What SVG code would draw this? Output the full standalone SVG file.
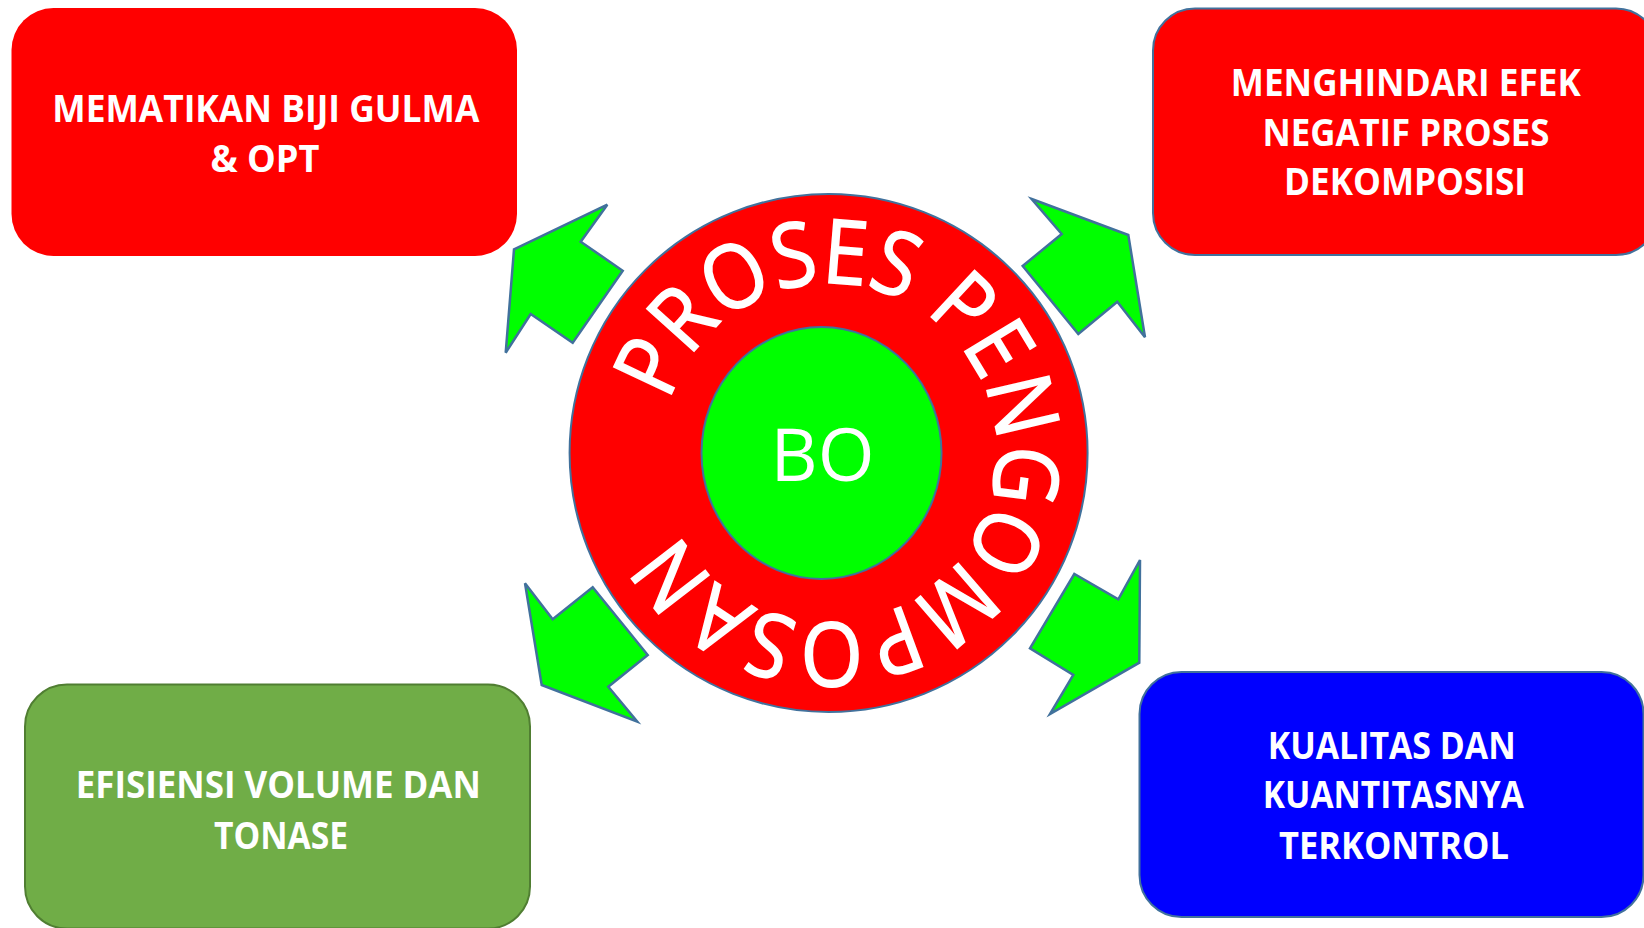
<svg xmlns="http://www.w3.org/2000/svg" xmlns:xlink="http://www.w3.org/1999/xlink" width="1644" height="928" viewBox="0 0 1644 928">
  <style>
    .box-label { font-family: "Open Sans", "Liberation Sans", sans-serif; font-weight: 700; font-size: 37px; fill: #FFFFFF; text-anchor: middle; }
    .ring-label { font-family: "Open Sans", "Liberation Sans", sans-serif; font-weight: 400; font-size: 89px; fill: #FFFFFF; stroke: #FFFFFF; stroke-width: 1.6; }
    .core-label { font-family: "Open Sans", "Liberation Sans", sans-serif; font-weight: 400; font-size: 73px; fill: #FFFFFF; text-anchor: middle; }
    .arrow { fill: #00FF00; stroke: #41719C; stroke-width: 2.5; stroke-linejoin: miter; }
  </style>
  <defs>
    <!-- clockwise baseline for the ring lettering -->
    <path id="ringPath" d="M669.7,401.7 A167,167 0 1 1 987.5,504.3 A167,167 0 1 1 669.7,401.7"/>
  </defs>

  <rect width="1644" height="928" fill="#FFFFFF"/>

  <!-- outcome boxes -->
  <g id="box-mematikan">
    <rect x="11.5" y="8" width="505.5" height="248" rx="42" ry="42" fill="#FF0000"/>
    <text class="box-label" x="265.8" y="121.7" textLength="427" lengthAdjust="spacingAndGlyphs">MEMATIKAN BIJI GULMA</text>
    <text class="box-label" x="265" y="171.7" textLength="109" lengthAdjust="spacingAndGlyphs">&amp; OPT</text>
  </g>

  <g id="box-menghindari">
    <rect x="1153" y="8.5" width="505" height="246.5" rx="42" ry="42" fill="#FF0000" stroke="#41719C" stroke-width="2"/>
    <text class="box-label" x="1405.8" y="96" textLength="350" lengthAdjust="spacingAndGlyphs">MENGHINDARI EFEK</text>
    <text class="box-label" x="1406" y="145.7" textLength="287" lengthAdjust="spacingAndGlyphs">NEGATIF PROSES</text>
    <text class="box-label" x="1405" y="195" textLength="242" lengthAdjust="spacingAndGlyphs">DEKOMPOSISI</text>
  </g>

  <g id="box-efisiensi">
    <rect x="25" y="684.5" width="505" height="244" rx="42" ry="42" fill="#70AD47" stroke="#507E32" stroke-width="2"/>
    <text class="box-label" x="278.3" y="798" textLength="405" lengthAdjust="spacingAndGlyphs">EFISIENSI VOLUME DAN</text>
    <text class="box-label" x="281" y="849.3" textLength="134" lengthAdjust="spacingAndGlyphs">TONASE</text>
  </g>

  <g id="box-kualitas">
    <rect x="1139.5" y="672" width="504" height="245" rx="42" ry="42" fill="#0000FF" stroke="#41719C" stroke-width="2"/>
    <text class="box-label" x="1391.7" y="759" textLength="248" lengthAdjust="spacingAndGlyphs">KUALITAS DAN</text>
    <text class="box-label" x="1393.3" y="808.3" textLength="261" lengthAdjust="spacingAndGlyphs">KUANTITASNYA</text>
    <text class="box-label" x="1394" y="859.3" textLength="230" lengthAdjust="spacingAndGlyphs">TERKONTROL</text>
  </g>

  <!-- block arrows radiating from the centre -->
  <g id="connectors">
    <polygon class="arrow" points="514,249.3 607.3,204.7 580.7,241.7 622.7,270.7 572.7,342.7 530.7,314 505.7,352.7"/>
    <polygon class="arrow" points="1031.7,199 1128.3,235 1145,337.3 1117.3,301.7 1078.3,334 1022.7,266 1061.7,234"/>
    <polygon class="arrow" points="525,583.3 552.7,619.3 592.7,587.3 647.7,655 608.3,686.7 637.3,721.7 541.7,685"/>
    <polygon class="arrow" points="1140,560 1139.3,662.7 1050,714 1073.3,675 1030,648.3 1074.3,574 1118.3,599.3"/>
  </g>

  <!-- central process ring -->
  <g id="proses-pengomposan">
    <circle cx="828.6" cy="453" r="259" fill="#FF0000" stroke="#41719C" stroke-width="2"/>
    <text class="ring-label"><textPath href="#ringPath" xlink:href="#ringPath" textLength="926" lengthAdjust="spacingAndGlyphs">PROSES PENGOMPOSAN</textPath></text>
  </g>

  <g id="bo">
    <ellipse cx="821.5" cy="453" rx="120" ry="126" fill="#00FF00" stroke="#41719C" stroke-width="2"/>
    <text class="core-label" x="822.5" y="481">BO</text>
  </g>
</svg>
